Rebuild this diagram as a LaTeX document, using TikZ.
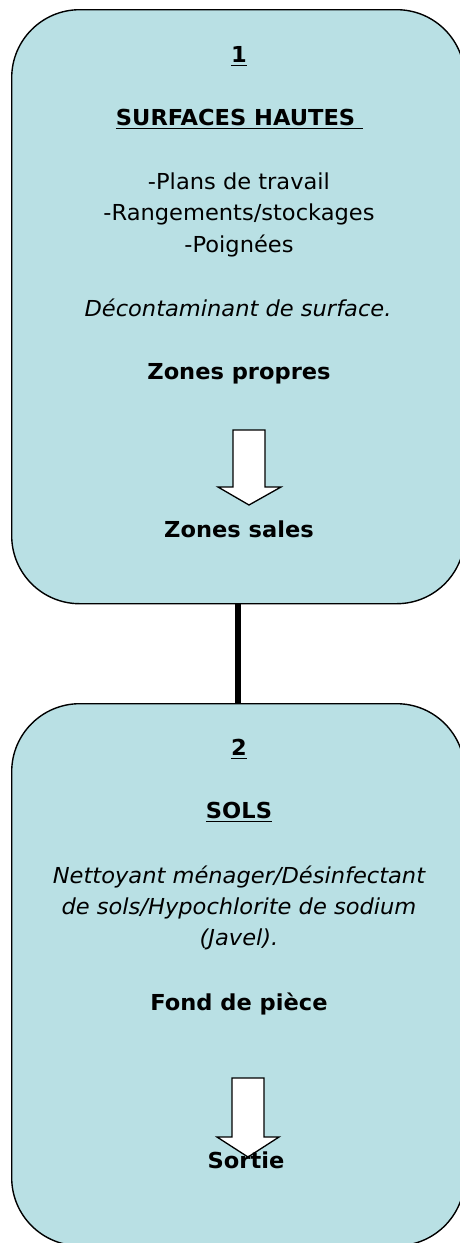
\documentclass[tikz,border=0pt]{standalone}
\usepackage{fontspec}
\setmainfont[FakeStretch=1.025]{DejaVu Sans}
\usetikzlibrary{calc}
\definecolor{boxfill}{RGB}{185,224,228}
\begin{document}
\begin{tikzpicture}[x=1pt,y=-1pt,
  panel/.style={draw=black,line width=1.4pt,fill=boxfill,rounded corners=68pt,
    minimum width=453pt,inner sep=0pt,anchor=north west},
  txt/.style={anchor=base,inner sep=0pt,font=\fontsize{22}{26}\selectfont},
  btxt/.style={txt,font=\fontsize{22}{26}\selectfont\bfseries},
  itxt/.style={txt,font=\fontsize{22}{26}\selectfont\itshape},
  uline/.style={line width=1.8pt},
  blockarrow/.style={draw=black,line width=1.3pt,fill=white,line join=miter}]
\useasboundingbox (0,0) rectangle (459,1243);
% boxes
\node[panel,minimum height=594pt] (box1) at (11,9) {};
\node[panel,minimum height=542pt] (box2) at (11,703) {};
\draw[line width=5.5pt] (box1.south) -- (box2.north);
% box 1 texts
\node[btxt] (n1) at (239,62) {1};
\draw[uline] ([yshift=-3.5pt]n1.base west) -- ([yshift=-3.5pt]n1.base east);
\node[btxt] (h1) at (239.5,125) {SURFACES HAUTES\ \null};
\draw[uline] ([yshift=-3.5pt]h1.base west) -- ([yshift=-3.5pt]h1.base east);
\node[txt] (l1) at (239,189) {-Plans de travail};
\node[txt] (l2) at (239,220.5) {-Rangements/stockages};
\node[txt] (l3) at (239,252) {-Poignées};
\node[itxt] (p1) at (238,316) {Décontaminant de surface.};
\node[btxt] (zp) at (239,379) {Zones propres};
\coordinate (a1) at (249,430);
\draw[blockarrow] ($(a1)+(-16,0)$) -- ($(a1)+(16,0)$) -- ($(a1)+(16,57)$) -- ($(a1)+(32,57)$)
  -- ($(a1)+(0,75)$) -- ($(a1)+(-31,57)$) -- ($(a1)+(-16,57)$) -- cycle;
\node[btxt] (zs) at (239,537) {Zones sales};
% box 2 texts
\node[btxt] (n2) at (239,755) {2};
\draw[uline] ([yshift=-3.5pt]n2.base west) -- ([yshift=-3.5pt]n2.base east);
\node[btxt] (h2) at (239,818) {SOLS};
\draw[uline] ([yshift=-3.5pt]h2.base west) -- ([yshift=-3.5pt]h2.base east);
\node[itxt] (q1) at (239,883) {Nettoyant ménager/Désinfectant};
\node[itxt] (q2) at (239,914) {de sols/Hypochlorite de sodium};
\node[itxt] (q3) at (239,945) {(Javel).};
\node[btxt] (fp) at (239,1010) {Fond de pièce};
\coordinate (a2) at (248,1078);
\draw[blockarrow] ($(a2)+(-16,0)$) -- ($(a2)+(16,0)$) -- ($(a2)+(16,59)$) -- ($(a2)+(31,59)$)
  -- ($(a2)+(0,79)$) -- ($(a2)+(-31,59)$) -- ($(a2)+(-16,59)$) -- cycle;
\node[btxt] (so) at (246,1168) {Sortie};
\end{tikzpicture}
\end{document}
